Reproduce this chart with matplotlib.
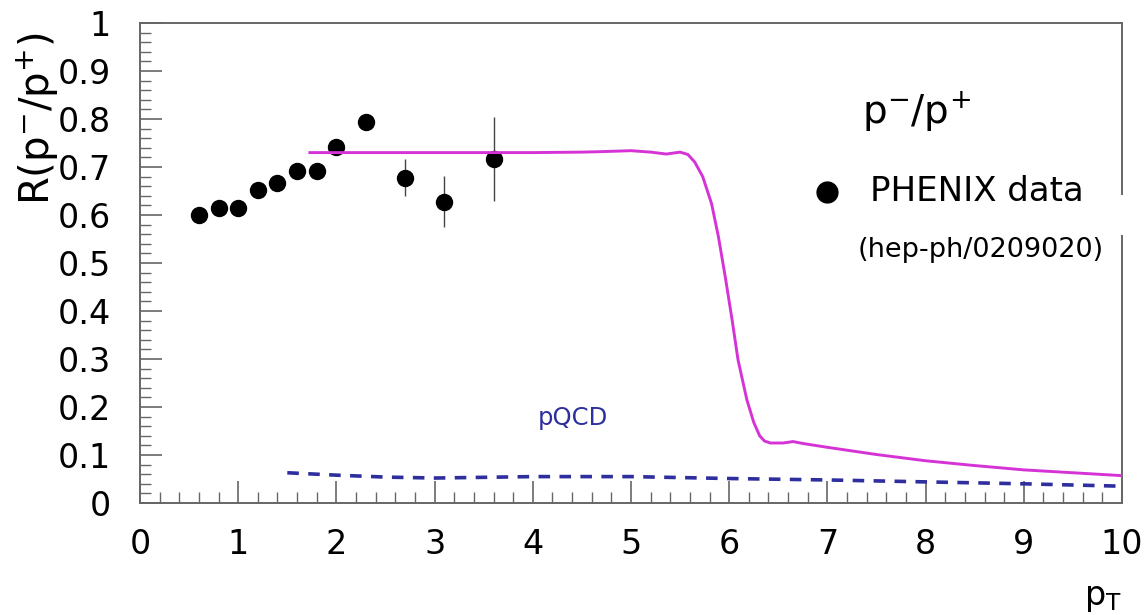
import matplotlib
matplotlib.use("Agg")
import matplotlib.pyplot as plt
from matplotlib.ticker import MultipleLocator, AutoMinorLocator
from matplotlib.patches import Rectangle

plt.rcParams['font.family'] = ['DejaVu Sans']
plt.rcParams['mathtext.fontset'] = 'dejavusans'

# PHENIX data points
data_pt = [0.6, 0.8, 1.0, 1.2, 1.4, 1.6, 1.8, 2.0, 2.3, 2.7, 3.1, 3.6]
data_r = [0.601, 0.615, 0.615, 0.653, 0.667, 0.692, 0.692, 0.742, 0.794, 0.678, 0.628, 0.717]
data_err = [0.01, 0.01, 0.01, 0.01, 0.01, 0.01, 0.01, 0.012, 0.012, 0.038, 0.054, 0.088]

# model curve (magenta)
model_pt = [1.73, 2.0, 2.5, 3.0, 3.5, 4.0, 4.5, 4.7, 5.0, 5.2, 5.36, 5.5, 5.58, 5.65, 5.73, 5.82,
            5.89, 5.96, 6.03, 6.09, 6.18, 6.25, 6.31, 6.36, 6.42, 6.55, 6.65, 6.75, 7.0, 7.5,
            8.0, 8.5, 9.0, 9.5, 10.0]
model_r = [0.730, 0.730, 0.730, 0.730, 0.730, 0.730, 0.731, 0.732, 0.734, 0.731, 0.727, 0.731,
           0.726, 0.710, 0.680, 0.624, 0.555, 0.471, 0.381, 0.298, 0.215, 0.168, 0.140, 0.129,
           0.125, 0.125, 0.128, 0.124, 0.116, 0.101, 0.088, 0.078, 0.069, 0.063, 0.057]

# pQCD curve (dashed)
pqcd_pt = [1.5, 2.0, 2.5, 3.0, 4.0, 5.0, 6.0, 7.0, 8.0, 9.0, 10.0]
pqcd_r = [0.063, 0.058, 0.054, 0.052, 0.055, 0.055, 0.051, 0.048, 0.044, 0.040, 0.035]

W, H = 1148, 615
fig = plt.figure(figsize=(W / 100, H / 100), dpi=100)
ax = fig.add_axes([140 / W, 1 - 503 / H, (1122 - 140) / W, (503 - 23) / H])

ax.errorbar(data_pt, data_r, yerr=data_err, fmt='o', color='black', ms=11.5,
            ecolor='#444444', elinewidth=1.0, capsize=0, zorder=3)
ax.plot(model_pt, model_r, color='#d633d6', lw=2.1, zorder=4)
ax.plot(pqcd_pt, pqcd_r, color='#2e2e9e', lw=2.6, dashes=(3.2, 2.6), zorder=2)

ax.set_xlim(0, 10)
ax.set_ylim(0, 1)
ax.xaxis.set_major_locator(MultipleLocator(1))
ax.xaxis.set_minor_locator(AutoMinorLocator(5))
ax.yaxis.set_minor_locator(AutoMinorLocator(5))
ax.set_yticks([0, 0.1, 0.2, 0.3, 0.4, 0.5, 0.6, 0.7, 0.8, 0.9, 1.0])
ax.set_yticklabels(['0', '0.1', '0.2', '0.3', '0.4', '0.5', '0.6', '0.7', '0.8', '0.9', '1'])
ax.yaxis.set_minor_locator(MultipleLocator(0.02))
ax.tick_params(which='both', direction='in', top=False, right=False, colors='#666666',
               labelcolor='black', labelsize=24)
ax.tick_params(which='major', length=16, width=1.2)
ax.tick_params(which='minor', length=8, width=1.0)
ax.tick_params(axis='y', pad=21)
ax.tick_params(axis='x', pad=18)
for s in ax.spines.values():
    s.set_color('#666666')
    s.set_linewidth(1.4)

# axis titles
fig.text(38 / W, 1 - 119 / H, r'R(p$^{-}$/p$^{+}$)', rotation=90, ha='center', va='center',
         fontsize=29)
fig.text(1122 / W, 1 - 597 / H, r'p$_{\mathrm{T}}$', ha='right', va='center', fontsize=24)

# annotations
ax.text(0.735, 0.815, r'p$^{-}$/p$^{+}$', transform=ax.transAxes, ha='left', va='center',
        fontsize=28)
ax.plot([0.6994], [0.648], 'o', color='black', ms=15, transform=ax.transAxes, clip_on=False)
ax.text(0.743, 0.648, 'PHENIX data', transform=ax.transAxes, ha='left', va='center',
        fontsize=24.5)
ax.text(0.731, 0.527, '(hep-ph/0209020)', transform=ax.transAxes, ha='left', va='center',
        fontsize=19.5)
ax.text(0.441, 0.177, 'pQCD', transform=ax.transAxes, ha='center', va='center',
        fontsize=17.5, color='#2e2e9e')

# white box interrupting right frame edge
fig.patches.append(Rectangle((1112 / W, 1 - 235 / H), 20 / W, 40 / H, transform=fig.transFigure,
                             facecolor='white', edgecolor='none', zorder=10))

fig.savefig('out.png', dpi=100)
